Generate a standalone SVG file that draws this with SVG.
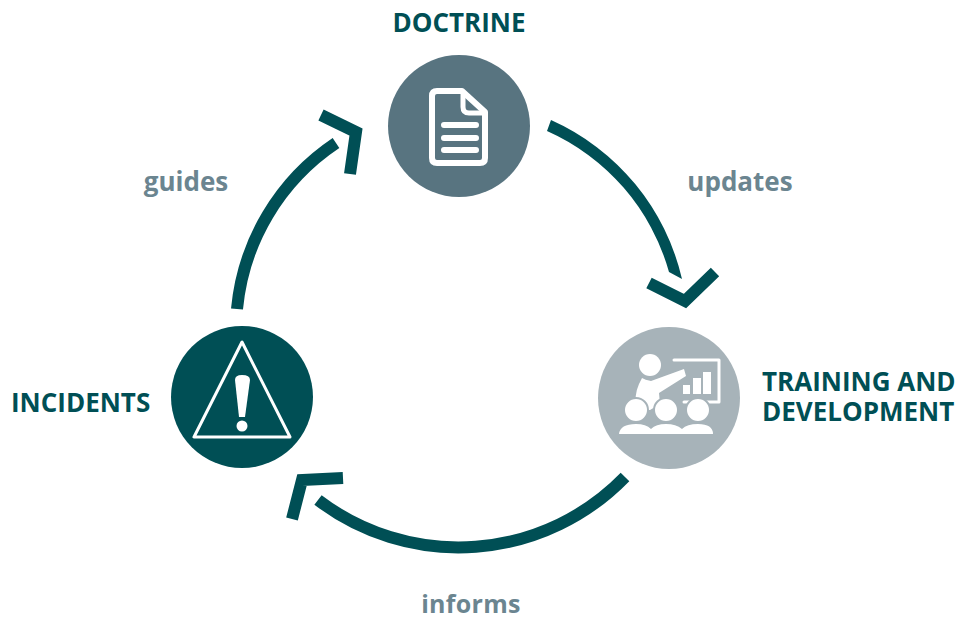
<svg xmlns="http://www.w3.org/2000/svg" width="956" height="621" viewBox="0 0 956 621">
<style>
.t{font-family:"Open Sans","Noto Sans",sans-serif;font-weight:700;font-size:26px;fill:#004f55}
.l{font-family:"Open Sans","Noto Sans",sans-serif;font-weight:700;font-size:26px;fill:#6b8590}
.a{fill:#004f55}
.c{fill:none;stroke:#004f55;stroke-width:12}
.w{fill:none;stroke:#fff;stroke-linejoin:round;stroke-linecap:round}
.f{fill:#fff}
.s{fill:#fff;stroke:#a7b3b9;stroke-width:2}
</style>
<rect width="956" height="621" fill="#fff"/>
<g id="connectors">
<path class="a" d="M551 120A231 231 0 0 1 682 279L669 272A219 219 0 0 0 547 131Z"/>
<path class="c" stroke-width="13" d="M649 283L685 301L715 272"/>
<path class="c" d="M625 477A232 232 0 0 1 318 500"/>
<path class="c" d="M343 478L302 480L292 519"/>
<path class="c" d="M237 309A225 225 0 0 1 336 143"/>
<path class="c" d="M321 115L356 132L350 174"/>
</g>
<g id="doctrine">
<circle cx="459" cy="126" r="71" fill="#587480"/>
<path class="w" stroke-width="6" d="M437 91H462L485 112V158Q485 163 480 163H437Q432 163 432 158V96Q432 91 437 91Z"/>
<path class="w" stroke-width="5" d="M463 93V107Q463 113 469 113H484"/>
<path class="w" stroke-width="6" d="M444 125H476M444 138H476M444 150H476"/>
<text class="t" x="459" y="32" text-anchor="middle">DOCTRINE</text>
</g>
<g id="training">
<circle cx="669" cy="398" r="71" fill="#a7b3b9"/>
<circle class="f" cx="650" cy="365" r="11"/>
<path class="f" d="M642 378Q645 380 651 381L684 369L686 376L659 393L660 404L650 410H636Q634 395 639 384Z"/>
<path class="w" stroke-width="3" d="M674 360H719V402H684"/>
<rect class="f" x="683" y="385" width="7" height="9"/>
<rect class="f" x="693" y="378" width="8" height="16"/>
<rect class="f" x="703" y="372" width="8" height="22"/>
<circle class="s" cx="636" cy="410" r="12"/>
<circle class="s" cx="666" cy="410" r="12"/>
<circle class="s" cx="698" cy="410" r="12"/>
<path class="f" d="M619 434Q620 424 636 424Q646 424 651 429Q656 424 666 424Q676 424 682 429Q687 424 698 424Q713 424 713 434Z"/>
<text class="t" x="762" y="391">TRAINING AND</text>
<text class="t" x="762" y="421">DEVELOPMENT</text>
</g>
<g id="incidents">
<circle cx="242" cy="397" r="71" fill="#004f55"/>
<path class="w" stroke-width="3" d="M242 342L194 437H290Z"/>
<path class="f" d="M235 380Q235 375 242 375Q250 375 250 380L245 417H239Z"/>
<circle class="f" cx="242" cy="426" r="5.5"/>
<text class="t" x="11" y="412">INCIDENTS</text>
</g>
<text class="l" x="186" y="191" text-anchor="middle">guides</text>
<text class="l" x="740" y="191" text-anchor="middle">updates</text>
<text class="l" x="471" y="613" text-anchor="middle" style="font-size:25px;letter-spacing:.3px">informs</text>
</svg>
